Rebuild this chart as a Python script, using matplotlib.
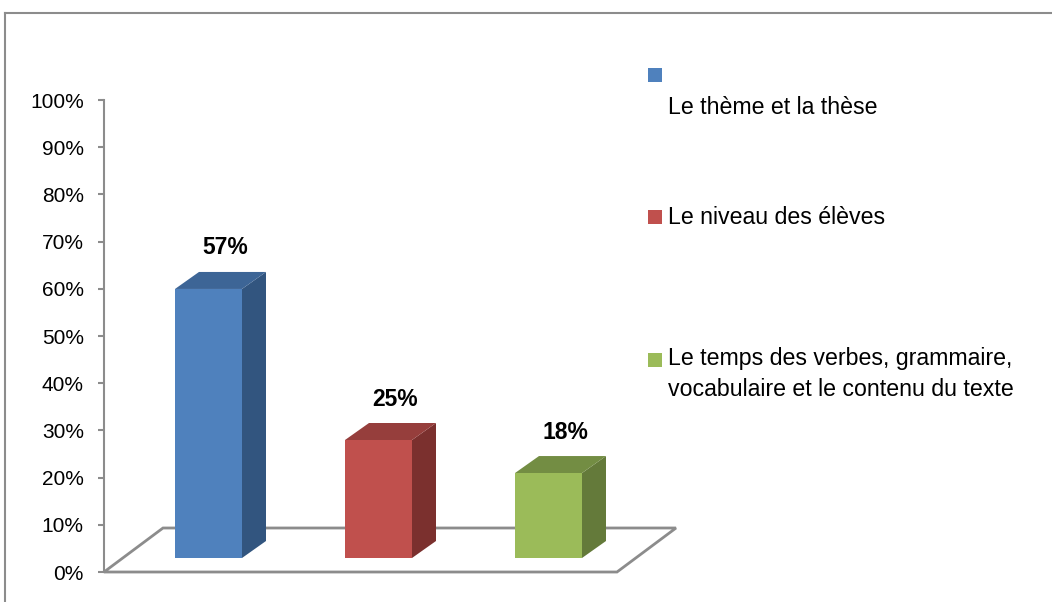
import matplotlib
matplotlib.use("Agg")
import matplotlib.pyplot as plt
from matplotlib.patches import Polygon, Rectangle
from matplotlib.lines import Line2D

plt.rcParams['font.family'] = ['Liberation Sans', 'DejaVu Sans']

# ---------------------------
# data
# ---------------------------
categories = ["Le thème et la thèse",
              "Le niveau des élèves",
              "Le temps des verbes, grammaire,\nvocabulaire et le contenu du texte"]
values = [57, 25, 18]
labels = ["57%", "25%", "18%"]
yticks = [0, 10, 20, 30, 40, 50, 60, 70, 80, 90, 100]

front_cols = ["#4F81BD", "#C0504D", "#9BBB59"]
top_cols = ["#3D6596", "#963E3C", "#738D43"]
side_cols = ["#32557F", "#7B302E", "#647A3A"]
grey = "#8C8C8C"

W, H = 1052, 602
fig = plt.figure(figsize=(W / 100, H / 100), dpi=100)

# axes: y from 0% (px 572) to 100% (px 100), x in category units
ax_l, ax_r = 104, 675
ax = fig.add_axes([ax_l / W, (H - 572) / H, (ax_r - ax_l) / W, (572 - 100) / H])
px_x = 170.0            # pixels per category
px_y = (572 - 100) / 100.0
x0 = -(208.5 - ax_l) / px_x
ax.set_xlim(x0, x0 + (ax_r - ax_l) / px_x)
ax.set_ylim(0, 100)

# floor parallelogram
fdx, fdy = 59 / px_x, 44 / px_y
fx1 = x0 + (617 - ax_l) / px_x
floor = Polygon([(x0, 0), (fx1, 0), (fx1 + fdx, fdy), (x0 + fdx, fdy)],
                closed=True, fill=False, edgecolor=grey, lw=2, clip_on=False, zorder=1)
ax.add_patch(floor)

# 3D bars
bw = 67 / px_x
bdx, bdy = 24 / px_x, 17 / px_y
base = 14 / px_y
for i, v in enumerate(values):
    xl, xr = i - bw / 2, i + bw / 2
    yb, yt = base, base + v
    side = Polygon([(xr, yb), (xr + bdx, yb + bdy), (xr + bdx, yt + bdy), (xr, yt)],
                   closed=True, facecolor=side_cols[i], edgecolor='none', clip_on=False, zorder=3)
    top = Polygon([(xl, yt), (xr, yt), (xr + bdx, yt + bdy), (xl + bdx, yt + bdy)],
                  closed=True, facecolor=top_cols[i], edgecolor='none', clip_on=False, zorder=3)
    front = Rectangle((xl, yb), bw, v, facecolor=front_cols[i], edgecolor='none',
                      clip_on=False, zorder=4)
    ax.add_patch(side)
    ax.add_patch(top)
    ax.add_patch(front)
    ax.text(i + 0.1, yt + bdy + 24 / px_y, labels[i], ha='center', va='center',
            fontsize=16.5, fontweight='bold', color='black', zorder=5)

# axis styling
for s in ['top', 'right', 'bottom']:
    ax.spines[s].set_visible(False)
ax.spines['left'].set_color(grey)
ax.spines['left'].set_linewidth(1.5)
ax.set_yticks(yticks)
ax.set_yticklabels([f"{t}%" for t in yticks])
ax.tick_params(axis='y', direction='out', length=4.5, width=1.5, color=grey,
               pad=10, labelsize=15, labelcolor='black')
ax.set_xticks([])
ax.patch.set_visible(False)

# legend (drawn by hand to match the odd wrapped layout)
leg_sq = [(68, 107), (210, 217), (353, 374)]   # square top y, text centre y
for i, (sq_y, txt_y) in enumerate(leg_sq):
    fig.patches.append(Rectangle((648 / W, 1 - (sq_y + 14) / H), 14 / W, 14 / H,
                                 transform=fig.transFigure, facecolor=front_cols[i],
                                 edgecolor='none'))
    fig.text(668 / W, 1 - txt_y / H, categories[i], ha='left', va='center',
             fontsize=16.7, color='black', linespacing=1.42)

# chart border (cut off at right and bottom)
bx, by = 4.5 / W, 1 - 12.5 / H
fig.lines.append(Line2D([bx, bx], [0, by], transform=fig.transFigure, color=grey, lw=1.5))
fig.lines.append(Line2D([bx, 1], [by, by], transform=fig.transFigure, color=grey, lw=1.5))

fig.savefig("out.png", dpi=100, facecolor='white')
